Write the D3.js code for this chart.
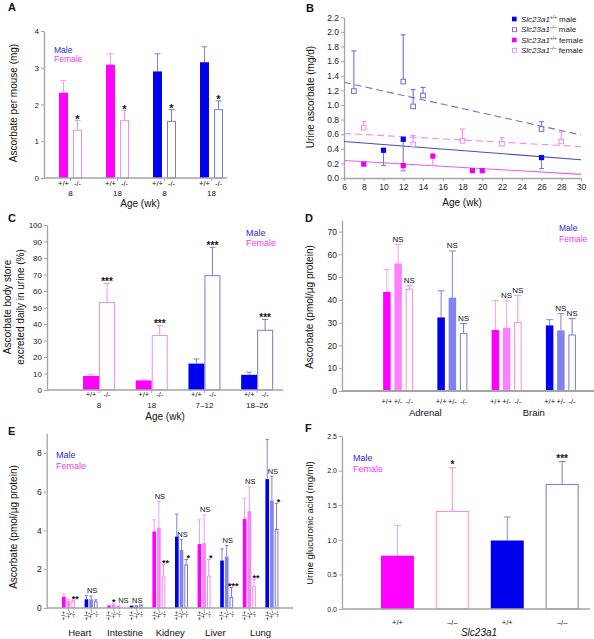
<!DOCTYPE html>
<html><head><meta charset="utf-8">
<script src="https://cdn.jsdelivr.net/npm/d3@7"></script>
<style>body{margin:0;background:#fff}</style>
</head><body><script>
// ---------------- DATA ----------------
// Panel A
const A_groups = ["F8","F18","M8","M18"];
const A_groupLabels = ["8","18","8","18"];
const A_sex = ["F","F","M","M"];
const A_geno = ["+/+","-/-"];
const A_mean = [[2.32,1.30],[3.08,1.56],[2.90,1.54],[3.15,1.86]];
const A_err  = [[0.33,0.27],[0.30,0.28],[0.48,0.32],[0.42,0.24]];
const A_sig  = [["","*"],["","*"],["","*"],["","*"]];
const A_yTicks = [0,1,2,3,4];
// Panel B
const B_xTicks = [6,8,10,12,14,16,18,20,22,24,26,28,30];
const B_yTicks = [0,0.2,0.4,0.6,0.8,1.0,1.2,1.4,1.6,1.8,2.0,2.2];
const B_koMaleAge = [7,12,13,14,26];
const B_koMaleMean = [1.19,1.32,0.98,1.13,0.67];
const B_koMaleErr = [0.55,0.64,0.23,0.11,0.10];
const B_koFemAge = [8,13,18,22,28];
const B_koFemMean = [0.69,0.46,0.51,0.47,0.50];
const B_koFemErr = [0.08,0.12,0.16,0.08,0.13];
const B_wtMaleAge = [10,12,26];
const B_wtMaleMean = [0.38,0.53,0.28];
const B_wtMaleErr = [0.21,0.43,0.15];
const B_wtFemAge = [8,12,15,19,20];
const B_wtFemMean = [0.19,0.17,0.30,0.10,0.10];
const B_wtFemErr = [0.02,0.07,0.13,0,0];
const B_trendAge = [6,30];
const B_trendKoMale = [1.31,0.59];
const B_trendKoFem = [0.61,0.43];
const B_trendWtMale = [0.50,0.25];
const B_trendWtFem = [0.24,0.05];
const B_legendSup = ["+/+","\u2013/\u2013","+/+","\u2013/\u2013"];
const B_legendSex = ["male","male","female","female"];
// Panel C
const C_groups = ["8","18","7\u201312","18\u201326"];
const C_sex = ["F","F","M","M"];
const C_geno = ["+/+","-/-"];
const C_mean = [[8.5,53],[5.8,33],[16,69.3],[9.2,36.2]];
const C_err  = [[1.0,11.5],[0.4,6],[2.8,17.2],[1.6,6.5]];
const C_sig  = [["","***"],["","***"],["","***"],["","***"]];
const C_yTicks = [0,10,20,30,40,50,60,70,80,90,100];
// Panel D
const D_groups = ["AdrF","AdrM","BrF","BrM"];
const D_organs = ["Adrenal","Brain"];
const D_sex = ["F","M","F","M"];
const D_geno = ["+/+","+/-","-/-"];
const D_mean = [[43.5,56,44.7],[32.3,41,25.2],[26.8,27.8,30],[28.8,26.6,24.6]];
const D_err  = [[9.8,8.3,1.5],[11.7,20.5,4.4],[12.9,11.8,11.9],[2.5,7.4,7.2]];
const D_sig  = [["","NS","NS"],["","NS","NS"],["","NS","NS"],["","NS","NS"]];
const D_yTicks = [0,10,20,30,40,50,60,70];
// Panel E
const E_groups = ["HeartF","HeartM","IntF","IntM","KidF","KidM","LivF","LivM","LungF","LungM"];
const E_organs = ["Heart","Intestine","Kidney","Liver","Lung"];
const E_sex = ["F","M","F","M","F","M","F","M","F","M"];
const E_geno = ["+/+","+/-","-/-"];
const E_mean = [[0.58,0.38,0.35],[0.45,0.45,0.32],[0.12,0.17,0.08],[0.10,0.10,0.12],
                [3.95,4.15,1.60],[3.68,3.00,2.22],[3.30,3.35,1.65],[2.45,2.65,0.55],
                [4.60,5.00,1.10],[6.65,5.55,4.05]];
const E_err  = [[0.13,0.07,0.05],[0.20,0.17,0.10],[0.04,0.04,0.03],[0.02,0.02,0.04],
                [0.60,1.35,0.65],[1.17,0.55,0.28],[1.25,1.45,0.85],[0.60,0.57,0.50],
                [1.05,1.25,0.38],[2.05,1.25,1.35]];
const E_sig  = [["","","**"],["","NS",""],["","*","NS"],["","NS",""],
                ["","NS","**"],["","NS","*"],["","NS","*"],["","NS","***"],
                ["","NS","**"],["","NS","*"]];
const E_yTicks = [0,2,4,6,8];
// Panel F
const F_cats = ["F+/+","F-/-","M+/+","M-/-"];
const F_labels = ["+/+","\u2013/\u2013","+/+","\u2013/\u2013"];
const F_sex = ["F","F","M","M"];
const F_geno = ["+/+","-/-","+/+","-/-"];
const F_mean = [0.77,1.41,0.99,1.80];
const F_err  = [0.44,0.63,0.34,0.33];
const F_sig  = ["","*","","***"];
const F_yTicks = [0,0.5,1.0,1.5,2.0,2.5];

// ---------------- STYLE ----------------
const FONT = '"Liberation Sans", Arial, Helvetica, sans-serif';
const AX = "#a4a4a4";
const COL = {
  F: {wt:"#ff00ff", het:"#ff80ff", ko:"#f08cf0", err:"#f49cf4"},
  M: {wt:"#0000ee", het:"#8282f2", ko:"#7a7ad0", err:"#8484d4"}
};
const LEG = {M:"#2b2bd6", F:"#f03cf0"};
function styleFor(sex, geno){
  const c = COL[sex];
  if (geno === "+/+") return {fill:c.wt, stroke:null, err:c.err};
  if (geno === "+/-") return {fill:c.het, stroke:null, err:c.err};
  return {fill:"#fff", stroke:c.ko, err:c.ko};
}

const svg = d3.select("body").append("svg").attr("width",594).attr("height",639)
  .attr("font-family", FONT);

function txt(g, x, y, s, o={}){
  const t = g.append("text").attr("x",x).attr("y",y).text(s)
    .attr("font-size", o.fs||8).attr("fill", o.fill||"#111")
    .attr("text-anchor", o.anchor||"middle");
  if (o.bold) t.attr("font-weight","bold");
  if (o.italic) t.attr("font-style","italic");
  return t;
}
function rotLabel(g, cx, cy, lines, fs){
  const t = g.append("text").attr("transform",`translate(${cx},${cy}) rotate(-90)`)
    .attr("text-anchor","middle").attr("font-size",fs).attr("fill","#111");
  lines.forEach((l,i)=>{
    t.append("tspan").attr("x",0).attr("dy", i===0 ? (0.35 - (lines.length-1)*0.6)+"em" : "1.25em").text(l);
  });
}
function yAxis(g, y, x0, ticks, fmt, fs){
  const a = g.append("g").attr("transform",`translate(${x0},0)`)
    .call(d3.axisLeft(y).tickValues(ticks).tickFormat(fmt).tickSize(3).tickSizeOuter(0));
  a.attr("font-family", FONT);
  a.select(".domain").attr("stroke",AX).attr("stroke-width",1.3);
  a.selectAll(".tick line").attr("stroke",AX);
  a.selectAll(".tick text").attr("font-size",fs).attr("fill","#222").attr("x",-5);
  return a;
}
function xLine(g, x0, x1, yv, w){
  g.append("line").attr("x1",x0).attr("x2",x1).attr("y1",yv).attr("y2",yv)
    .attr("stroke",AX).attr("stroke-width",w||1.3);
}
function xTicks(g, x, yv){
  const a = g.append("g").attr("transform",`translate(0,${yv})`)
    .call(d3.axisBottom(x).tickFormat("").tickSize(3).tickSizeOuter(0));
  a.select(".domain").remove();
  a.selectAll(".tick line").attr("stroke",AX);
}
// grouped bars
function bars(g, groups, sexes, genos, means, errs, sigs, x, inner, y, o){
  groups.forEach((grp,i)=>{
    const c = x(grp) + x.bandwidth()/2;
    genos.forEach((gt,j)=>{
      const st = styleFor(sexes[i], gt);
      const bw = inner.bandwidth(), bx = c + inner(gt), mid = bx + bw/2;
      const v = means[i][j], e = errs[i][j];
      const top = y(v), base = y(0), et = y(v+e);
      g.append("line").attr("x1",mid).attr("x2",mid).attr("y1",top).attr("y2",et)
        .attr("stroke",st.err).attr("stroke-width",1);
      g.append("line").attr("x1",mid-o.cap/2).attr("x2",mid+o.cap/2).attr("y1",et).attr("y2",et)
        .attr("stroke",st.err).attr("stroke-width",1);
      if (st.stroke) {
        g.append("rect").attr("x",bx+0.5).attr("y",top).attr("width",bw-1).attr("height",base-top)
          .attr("fill","#fff").attr("stroke",st.stroke).attr("stroke-width",1);
      } else {
        g.append("rect").attr("x",bx).attr("y",top).attr("width",bw).attr("height",base-top)
          .attr("fill",st.fill);
      }
      const s = sigs[i][j];
      if (s) {
        const ko = (gt === "-/-");
        if (s === "NS") txt(g, mid + (ko ? (o.nsDxKo||0) : (o.nsDx||0)), et - 2.5, s, {fs:o.nsFs});
        else txt(g, mid + (ko ? (o.starDx||0) : 0), et + (o.starDy||1.5), s, {fs:o.starFs, bold:true});
      }
      if (o.genoY && !o.rot) txt(g, mid, o.genoY, gt, {fs:o.genoFs});
      if (o.rot) {
        g.append("text").attr("transform",`translate(${mid},${o.genoY}) rotate(-90)`)
          .attr("text-anchor","end").attr("dy","0.35em").attr("font-size",o.genoFs)
          .attr("fill","#111").text(gt);
      }
    });
  });
}
function sexLegend(g, x, y1, y2, fs){
  txt(g, x, y1, "Male", {fs, anchor:"start", fill:LEG.M});
  txt(g, x, y2, "Female", {fs, anchor:"start", fill:LEG.F});
}

// ---------------- PANEL A ----------------
{
  const g = svg.append("g");
  const y = d3.scaleLinear().domain([0,4]).range([178,31]);
  const x = d3.scaleBand().domain(A_groups).range([47,235]);
  const inner = d3.scaleBand().domain(A_geno).range([-11.5,11.5]).paddingInner(0.36);
  yAxis(g, y, 44, A_yTicks, d3.format("d"), 8);
  bars(g, A_groups, A_sex, A_geno, A_mean, A_err, A_sig, x, inner, y,
       {cap:6, starFs:11, starDy:2.5, genoY:185.5, genoFs:7.5});
  xLine(g, 44, 227, 178);
  xTicks(g, x, 178);
  A_groups.forEach((grp,i)=> txt(g, x(grp)+x.bandwidth()/2, 196, A_groupLabels[i], {fs:8}));
  txt(g, 140, 207, "Age (wk)", {fs:10});
  rotLabel(g, 13, 103, ["Ascorbate per mouse (mg)"], 10);
  sexLegend(g, 54, 53, 62, 8.5);
  txt(g, 8, 11, "A", {fs:11, bold:true, anchor:"start"});
}

// ---------------- PANEL B ----------------
{
  const g = svg.append("g");
  const x = d3.scaleLinear().domain([6,30]).range([344,581]);
  const y = d3.scaleLinear().domain([0,2.2]).range([178,17.3]);
  yAxis(g, y, 344, B_yTicks, d3.format(".1f"), 8.5);
  const xa = g.append("g").attr("transform","translate(0,178)")
    .call(d3.axisBottom(x).tickValues(B_xTicks).tickFormat(d3.format("d")).tickSize(3).tickSizeOuter(0));
  xa.attr("font-family", FONT);
  xa.select(".domain").attr("stroke",AX).attr("stroke-width",1.3);
  xa.selectAll(".tick line").attr("stroke",AX);
  xa.selectAll(".tick text").attr("font-size",8.5).attr("fill","#222").attr("y",6);

  const lineC = {koM:"#7272d2", koF:"#f08af0", wtM:"#4a4abf", wtF:"#e85ee8"};
  function trend(vals, col, dash){
    g.append("line").attr("x1",x(B_trendAge[0])).attr("x2",x(B_trendAge[1]))
      .attr("y1",y(vals[0])).attr("y2",y(vals[1])).attr("stroke",col).attr("stroke-width",1.1)
      .attr("stroke-dasharray", dash ? "7,4" : null);
  }
  trend(B_trendKoMale, lineC.koM, true);
  trend(B_trendKoFem, lineC.koF, true);
  trend(B_trendWtMale, lineC.wtM, false);
  trend(B_trendWtFem, lineC.wtF, false);

  function series(ages, means, errs, dir, errCol, fill, stroke){
    ages.forEach((a,i)=>{
      const cx = x(a), cy = y(means[i]);
      if (errs[i] > 0) {
        const ey = y(means[i] + dir*errs[i]);
        g.append("line").attr("x1",cx).attr("x2",cx).attr("y1",cy).attr("y2",ey)
          .attr("stroke",errCol).attr("stroke-width",1.1);
        g.append("line").attr("x1",cx-2.5).attr("x2",cx+2.5).attr("y1",ey).attr("y2",ey)
          .attr("stroke",errCol).attr("stroke-width",1.1);
      }
      if (stroke) g.append("rect").attr("x",cx-2.3).attr("y",cy-2.3).attr("width",4.6).attr("height",4.6)
          .attr("fill","#fff").attr("stroke",stroke).attr("stroke-width",1);
      else g.append("rect").attr("x",cx-2.6).attr("y",cy-2.6).attr("width",5.2).attr("height",5.2).attr("fill",fill);
    });
  }
  series(B_koMaleAge, B_koMaleMean, B_koMaleErr, 1, lineC.koM, null, "#6c6cd0");
  series(B_koFemAge, B_koFemMean, B_koFemErr, 1, lineC.koF, null, "#f08af0");
  series(B_wtMaleAge, B_wtMaleMean, B_wtMaleErr, -1, "#7a7ad4", "#0000ee", null);
  series(B_wtFemAge, B_wtFemMean, B_wtFemErr, -1, "#f08af0", "#ee00ee", null);

  // legend
  const legY = [19, 29.7, 40, 50.3];
  const legFill = ["#0000ee", null, "#ee00ee", null];
  const legStroke = [null, "#6c6cd0", null, "#f08af0"];
  legY.forEach((ly,i)=>{
    if (legFill[i]) g.append("rect").attr("x",512).attr("y",ly-2.3).attr("width",4.6).attr("height",4.6).attr("fill",legFill[i]);
    else g.append("rect").attr("x",512.5).attr("y",ly-2).attr("width",4).attr("height",4).attr("fill","#fff").attr("stroke",legStroke[i]).attr("stroke-width",0.9);
    const t = g.append("text").attr("x",521).attr("y",ly+2.7).attr("font-size",8).attr("fill","#222");
    t.append("tspan").attr("font-style","italic").text("Slc23a1");
    t.append("tspan").attr("font-size",4.8).attr("dy",-3).text(B_legendSup[i]);
    t.append("tspan").attr("dy",3).text(" " + B_legendSex[i]);
  });
  txt(g, 462, 205.5, "Age (wk)", {fs:10});
  rotLabel(g, 310, 97, ["Urine ascorbate (mg/d)"], 10);
  txt(g, 306, 12, "B", {fs:11, bold:true, anchor:"start"});
}

// ---------------- PANEL C ----------------
{
  const g = svg.append("g");
  const y = d3.scaleLinear().domain([0,100]).range([390,225]);
  const x = d3.scaleBand().domain(C_groups).range([72.7,283.5]);
  const inner = d3.scaleBand().domain(C_geno).range([-16,16]);
  yAxis(g, y, 47, C_yTicks, d3.format("d"), 8);
  bars(g, C_groups, C_sex, C_geno, C_mean, C_err, C_sig, x, inner, y,
       {cap:6, starFs:10, starDy:1.5, genoY:397, genoFs:7.5});
  xLine(g, 47, 283, 390);
  xTicks(g, x, 390);
  C_groups.forEach(grp=> txt(g, x(grp)+x.bandwidth()/2, 407.5, grp, {fs:8}));
  txt(g, 165, 420, "Age (wk)", {fs:10});
  rotLabel(g, 13.5, 307, ["Ascorbate body store","excreted daily in urine (%)"], 10);
  sexLegend(g, 246, 236, 246, 9);
  txt(g, 8, 222, "C", {fs:11, bold:true, anchor:"start"});
}

// ---------------- PANEL D ----------------
{
  const g = svg.append("g");
  const y = d3.scaleLinear().domain([0,75]).range([391,220.2]);
  const x = d3.scaleBand().domain(D_groups).range([371,588]);
  const inner = d3.scaleBand().domain(D_geno).range([-15,15]).paddingInner(0.333);
  yAxis(g, y, 342, D_yTicks, d3.format("d"), 8.5);
  bars(g, D_groups, D_sex, D_geno, D_mean, D_err, D_sig, x, inner, y,
       {cap:7, nsFs:8, genoY:404, genoFs:7.5});
  xLine(g, 342, 594, 391, 1.8);
  D_organs.forEach((o,k)=>{
    const c = (x(D_groups[2*k]) + x(D_groups[2*k+1]) + x.bandwidth())/2;
    txt(g, c, 415.5, o, {fs:9.5});
  });
  rotLabel(g, 309, 307, ["Ascorbate (pmol/\u00b5g protein)"], 10);
  sexLegend(g, 559, 231.3, 242.3, 8.5);
  txt(g, 305, 222, "D", {fs:11, bold:true, anchor:"start"});
}

// ---------------- PANEL E ----------------
{
  const g = svg.append("g");
  const y = d3.scaleLinear().domain([0,9]).range([608,433.6]);
  const x = d3.scaleBand().domain(E_groups).range([57.2,283.2]);
  const inner = d3.scaleBand().domain(E_geno).range([-6.5,6.5]).paddingInner(0.22);
  yAxis(g, y, 46.7, E_yTicks, d3.format("d"), 8.5);
  bars(g, E_groups, E_sex, E_geno, E_mean, E_err, E_sig, x, inner, y,
       {cap:3.5, nsFs:7.5, starFs:9, starDx:2, starDy:1.5, nsDx:1, nsDxKo:5, genoY:611, genoFs:6.5, rot:true});
  xLine(g, 46.7, 293, 608);
  xTicks(g, x, 608);
  E_organs.forEach((o,k)=>{
    const c = (x(E_groups[2*k]) + x(E_groups[2*k+1]) + x.bandwidth())/2;
    txt(g, c, 635.5, o, {fs:9.5});
  });
  rotLabel(g, 13, 527, ["Ascorbate (pmol/\u00b5g protein)"], 10);
  sexLegend(g, 56, 458, 469, 9);
  txt(g, 8, 435, "E", {fs:11, bold:true, anchor:"start"});
}

// ---------------- PANEL F ----------------
{
  const g = svg.append("g");
  const y = d3.scaleLinear().domain([0,2.5]).range([609,436]);
  const x = d3.scaleBand().domain(F_cats).range([370,589.6]);
  yAxis(g, y, 342, F_yTicks, d3.format(".1f"), 7);
  const bw = 33;
  F_cats.forEach((c,i)=>{
    const st = styleFor(F_sex[i], F_geno[i]);
    const mid = x(c) + x.bandwidth()/2, bx = mid - bw/2;
    const top = y(F_mean[i]), base = y(0), et = y(F_mean[i]+F_err[i]);
    g.append("line").attr("x1",mid).attr("x2",mid).attr("y1",top).attr("y2",et).attr("stroke",st.err);
    g.append("line").attr("x1",mid-3.5).attr("x2",mid+3.5).attr("y1",et).attr("y2",et).attr("stroke",st.err);
    if (st.stroke) g.append("rect").attr("x",bx+0.5).attr("y",top).attr("width",bw-1).attr("height",base-top)
        .attr("fill","#fff").attr("stroke",st.stroke).attr("stroke-width",1);
    else g.append("rect").attr("x",bx).attr("y",top).attr("width",bw).attr("height",base-top).attr("fill",st.fill);
    if (F_sig[i]) txt(g, mid, et + 0.5, F_sig[i], {fs:10, bold:true});
    txt(g, mid, 624.5, F_labels[i], {fs:7.5});
  });
  xLine(g, 342, 590, 609);
  txt(g, 479, 635.5, "Slc23a1", {fs:10, italic:true});
  rotLabel(g, 310, 523, ["Urine glucuronic acid (mg/ml)"], 9.5);
  sexLegend(g, 353, 460.7, 472, 9);
  txt(g, 305, 432, "F", {fs:11, bold:true, anchor:"start"});
}
</script></body></html>
